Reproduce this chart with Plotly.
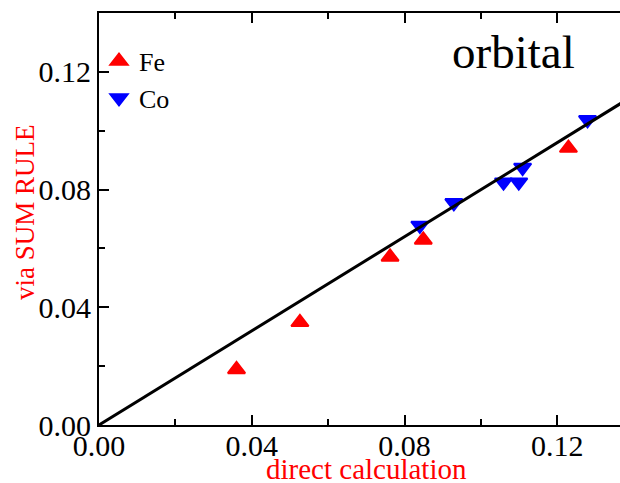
import plotly.graph_objects as go

# Orbital moment: direct calculation vs. sum-rule estimate
fe_direct = [0.0360, 0.0526, 0.0762, 0.0849, 0.1229]
fe_sumrule = [0.0189, 0.0349, 0.0571, 0.0629, 0.0941]

co_direct = [0.0840, 0.0929, 0.1059, 0.1099, 0.1109, 0.1279]
co_sumrule = [0.0678, 0.0755, 0.0825, 0.0825, 0.0875, 0.1037]

fit_slope = 0.80
fit_x = [0.0, 0.14]
fit_y = [fit_slope * v for v in fit_x]

tick_vals = [0.00, 0.04, 0.08, 0.12]
tick_text = ["0.00", "0.04", "0.08", "0.12"]

SERIF = "Liberation Serif, Times New Roman, serif"

fig = go.Figure()
fig.add_trace(go.Scatter(
    x=fe_direct, y=fe_sumrule, mode="markers", name="Fe",
    marker=dict(symbol="triangle-up", size=15, color="#ff0000",
                line=dict(color="#ff0000", width=2)),
))
fig.add_trace(go.Scatter(
    x=co_direct, y=co_sumrule, mode="markers", name="Co",
    marker=dict(symbol="triangle-down", size=15, color="#0000ff",
                line=dict(color="#0000ff", width=2)),
))
fig.add_trace(go.Scatter(
    x=fit_x, y=fit_y, mode="lines", showlegend=False,
    line=dict(color="black", width=3), hoverinfo="skip",
))

axis_common = dict(
    showgrid=False, zeroline=False,
    showline=True, linecolor="black", linewidth=2,
    ticks="inside", ticklen=10, tickwidth=2, tickcolor="black",
    tickvals=tick_vals, ticktext=tick_text,
    tickfont=dict(family=SERIF, size=30, color="black"),
    minor=dict(ticks="inside", ticklen=6, tickwidth=2, tickcolor="black", dtick=0.02),
)

fig.update_xaxes(range=[0, 0.1364], mirror="ticks", ticklabelstandoff=-7, **axis_common)
fig.update_yaxes(range=[0, 0.14], mirror=False, **axis_common)

PLOT_H = 412  # plot-area height in px

fig.update_layout(
    width=620, height=483,
    margin=dict(l=99, r=0, t=13, b=58),
    paper_bgcolor="white", plot_bgcolor="white",
    showlegend=True,
    legend=dict(x=0.0, y=0.94, xanchor="left", yanchor="top",
                bgcolor="rgba(0,0,0,0)", borderwidth=0,
                font=dict(family=SERIF, size=26, color="black"),
                tracegroupgap=0),
    annotations=[
        dict(text="orbital", x=0.795, y=(425 - 52) / PLOT_H,
             xref="paper", yref="paper", xanchor="center", yanchor="middle",
             showarrow=False, font=dict(family=SERIF, size=47, color="black")),
        dict(text="direct calculation", x=0.07, y=(425 - 469) / PLOT_H,
             xref="x", yref="paper", xanchor="center", yanchor="middle",
             showarrow=False, font=dict(family=SERIF, size=29, color="#ff0000")),
        dict(text="via SUM RULE", x=(25 - 99) / 521, y=(425 - 212) / PLOT_H,
             xref="paper", yref="paper", xanchor="center", yanchor="middle",
             textangle=-90, showarrow=False,
             font=dict(family=SERIF, size=27, color="#ff0000")),
    ],
)

fig.write_html("out.html")
